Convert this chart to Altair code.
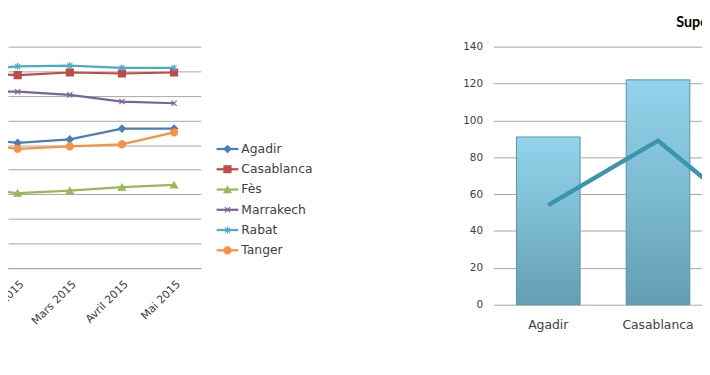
import altair as alt
import pandas as pd

# ---- Left chart: line chart by month ----
mois = ["Janvier 2015", "Février 2015", "Mars 2015", "Avril 2015", "Mai 2015"]
villes = ["Agadir", "Casablanca", "Fès", "Marrakech", "Rabat", "Tanger"]
agadir = [9300, 9090, 9230, 9670, 9670]
casablanca = [11960, 11840, 11950, 11910, 11950]
fes = [7250, 7050, 7150, 7290, 7380]
marrakech = [11170, 11170, 11040, 10770, 10700]
rabat = [12040, 12200, 12230, 12135, 12135]
tanger = [9090, 8850, 8950, 9030, 9520]

couleurs = ["#4A7EBB", "#BE4B48", "#98B954", "#7D60A0", "#4BACC6", "#F69240"]
X_PATH = "M-0.75,-0.75L0.75,0.75M-0.75,0.75L0.75,-0.75"
STAR_PATH = "M-0.7,-0.7L0.7,0.7M-0.7,0.7L0.7,-0.7M0,-1L0,1"
formes = ["diamond", "square", "triangle-up", X_PATH, STAR_PATH, "circle"]

# ---- Right chart: bars + line ----
cat2 = ["Agadir", "Casablanca", "Fès"]
barres = [91, 122, 60]
ligne = [54, 89, 40]

FONT = "DejaVu Sans"
GRID = "#A6A6A6"
TXT = "#404040"

series = [agadir, casablanca, fes, marrakech, rabat, tanger]
rows = []
for v, vals in zip(villes, series):
    for i, (m, val) in enumerate(zip(mois, vals)):
        rows.append({"ville": v, "mois": m, "idx": i, "valeur": val})
df = pd.DataFrame(rows)

color_scale = alt.Scale(domain=villes, range=couleurs)
shape_scale = alt.Scale(domain=villes, range=formes)

label_expr = "[" + ",".join("'" + m + "'" for m in mois) + "][datum.value]"
x_left = alt.X(
    "idx:Q",
    scale=alt.Scale(domain=[0.815, 4.512], nice=False, zero=False),
    axis=alt.Axis(title=None, values=list(range(len(mois))), labelExpr=label_expr,
                  labelAngle=-45, labelAlign="right", labelBaseline="top",
                  ticks=False, grid=False, domainColor=GRID, labelColor=TXT,
                  labelFont=FONT, labelFontSize=11, labelPadding=10, labelFlush=False,
                  labelOverlap=False),
)
y_left = alt.Y(
    "valeur:Q",
    scale=alt.Scale(domain=[4000, 13000]),
    axis=alt.Axis(title=None, values=list(range(4000, 13001, 1000)), labels=False,
                  ticks=False, domain=False, gridColor=GRID),
)

base = alt.Chart(df)
lines = base.mark_line(strokeWidth=2.25, clip=True).encode(
    x=x_left, y=y_left,
    color=alt.Color("ville:N", scale=color_scale, legend=None),
    detail="ville:N",
)
pts = base.mark_point(filled=True, size=50, strokeWidth=1.2, opacity=1, clip=True).encode(
    x=x_left, y=y_left,
    fill=alt.Fill("ville:N", scale=color_scale, legend=None),
    stroke=alt.Stroke("ville:N", scale=color_scale, legend=None),
    shape=alt.Shape("ville:N", scale=shape_scale, legend=None),
)
left = (lines + pts).properties(width=195, height=224)

# ---- custom legend ----
leg_df = pd.DataFrame({"ville": villes})
ly = alt.Y("ville:N", sort=villes, axis=None,
           scale=alt.Scale(type="point", range=[103.5, 206], padding=0))
lbase = alt.Chart(leg_df)
lrule = lbase.mark_rule(strokeWidth=2.25).encode(
    y=ly, x=alt.value(1), x2=alt.value(23),
    color=alt.Color("ville:N", scale=color_scale, legend=None),
)
lpts = lbase.mark_point(filled=True, size=50, strokeWidth=1.2, opacity=1).encode(
    y=ly, x=alt.value(12),
    fill=alt.Fill("ville:N", scale=color_scale, legend=None),
    stroke=alt.Stroke("ville:N", scale=color_scale, legend=None),
    shape=alt.Shape("ville:N", scale=shape_scale, legend=None),
)
ltxt = lbase.mark_text(align="left", baseline="middle", font=FONT, fontSize=12.5,
                       color=TXT).encode(y=ly, x=alt.value(26), text="ville:N")
legend = (lrule + lpts + ltxt).properties(width=266, height=224)

# ---- right chart ----
df2 = pd.DataFrame({"ville": cat2, "barre": barres, "ligne": ligne})
x_right = alt.X(
    "ville:N", sort=cat2,
    scale=alt.Scale(paddingInner=0.42, paddingOuter=0.21),
    axis=alt.Axis(title=None, labelAngle=0, ticks=False, domain=False, labelColor=TXT,
                  labelFont=FONT, labelFontSize=12.5, labelPadding=14),
)
y_axis = alt.Axis(title=None, values=list(range(0, 141, 20)), ticks=False, domain=False,
                  gridColor=GRID, labelColor=TXT, labelFont=FONT, labelFontSize=10.5,
                  labelPadding=11)
y_scale = alt.Scale(domain=[0, 140], nice=False)
bars = alt.Chart(df2).mark_bar(
    color=alt.Gradient(
        gradient="linear",
        stops=[alt.GradientStop(color="#93D3EB", offset=0),
               alt.GradientStop(color="#7CBBD0", offset=0.5),
               alt.GradientStop(color="#639EB2", offset=1)],
        x1=0, x2=0, y1=0, y2=1),
    stroke="#5B92A5", strokeWidth=1,
).encode(x=x_right, y=alt.Y("barre:Q", scale=y_scale, axis=y_axis))
rline = alt.Chart(df2).mark_line(color="#3C95AE", strokeWidth=4.5).encode(
    x=x_right, y=alt.Y("ligne:Q", scale=y_scale, axis=y_axis),
)
right = (bars + rline).properties(
    width=333, height=261,
    title=alt.TitleParams("Superficie moyenne", anchor="start", frame="group", dx=185,
                          offset=0, baseline="alphabetic", font="Lato",
                          fontSize=14.5, fontWeight="bold", color="#000000"),
)

chart = alt.hconcat(left, legend, right, spacing=15, bounds="flush").properties(
    autosize=alt.AutoSizeParams(type="none"),
    padding={"left": 0, "top": 37, "right": 702, "bottom": 330},
).configure_view(stroke=None)

chart.save("out.html", embed_options={"renderer": "svg", "actions": False})
